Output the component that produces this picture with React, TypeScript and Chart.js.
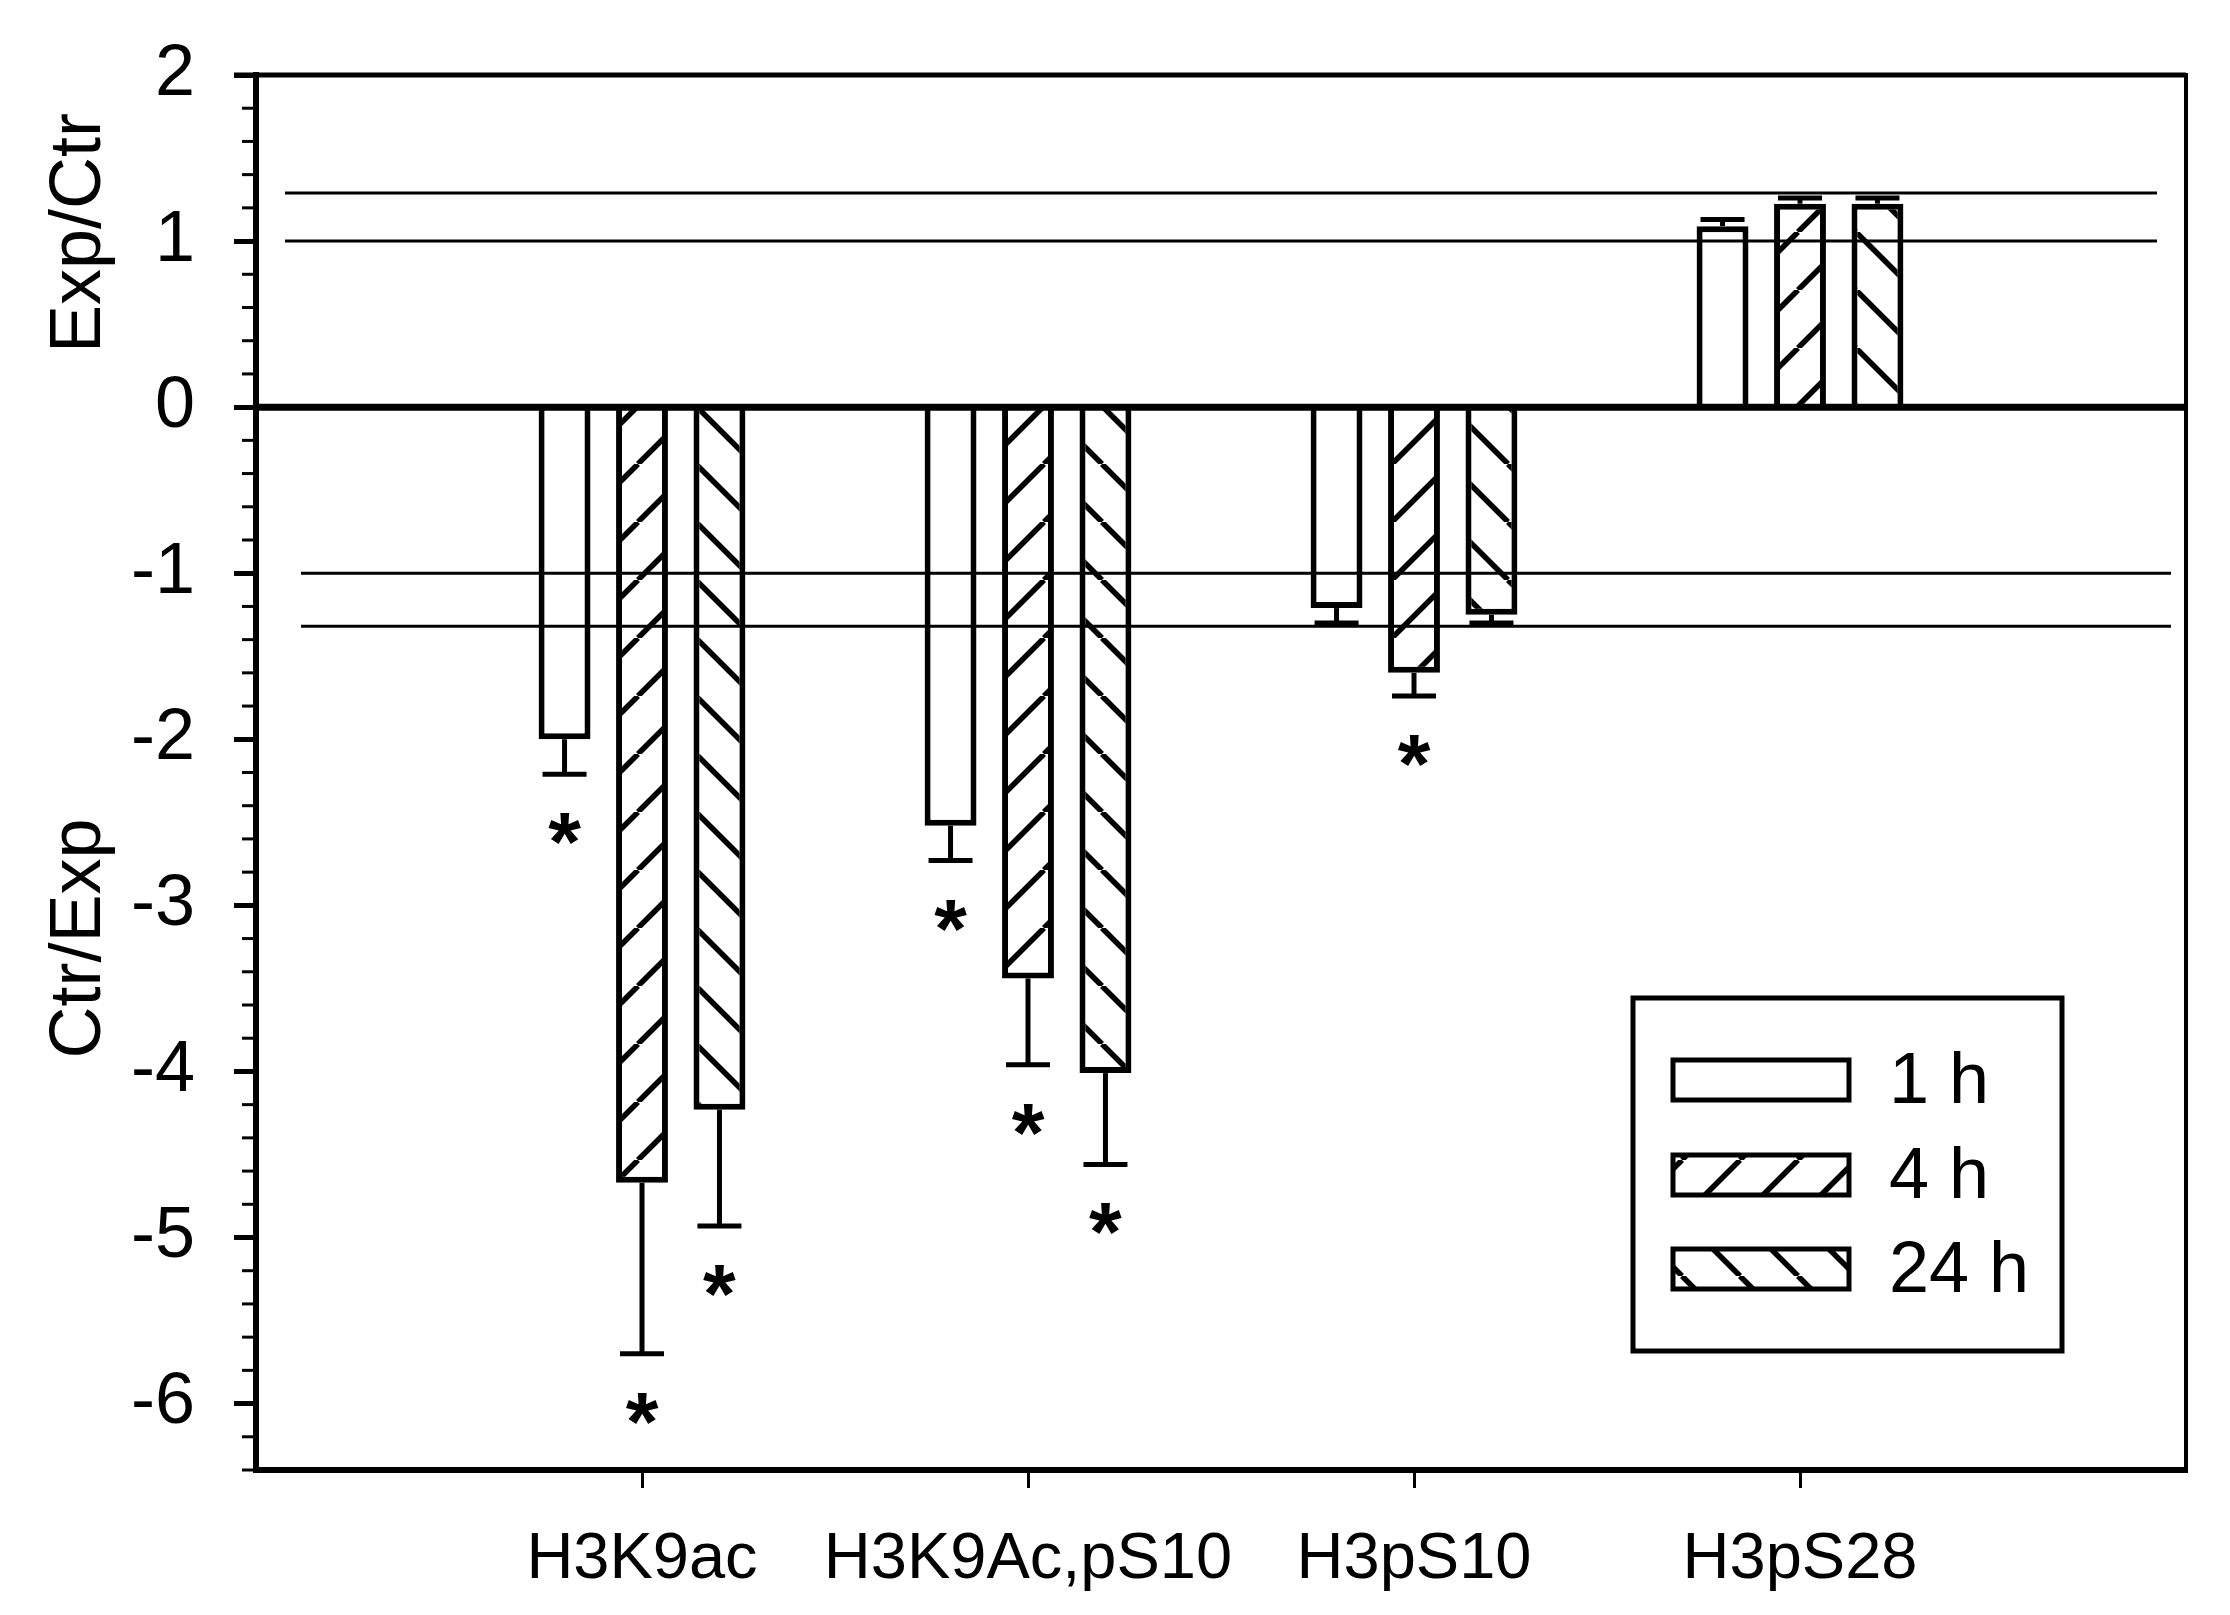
import React, { useEffect, useRef } from 'react';
import { Chart, registerables } from 'chart.js';

Chart.register(...registerables);

// ---------------- data ----------------
const categories = ['', 'H3K9ac', 'H3K9Ac,pS10', 'H3pS10', 'H3pS28', ''];
const seriesLabels = ['1 h', '4 h', '24 h'];
const values1h = [null, -2.0, -2.52, -1.21, 1.09, null];
const values4h = [null, -4.67, -3.44, -1.6, 1.225, null];
const values24h = [null, -4.23, -4.01, -1.25, 1.225, null];
const err1h = [null, 0.21, 0.21, 0.09, 0.04, null];
const err4h = [null, 1.03, 0.52, 0.14, 0.035, null];
const err24h = [null, 0.7, 0.55, 0.05, 0.035, null];
const star1h = [false, true, true, false, false, false];
const star4h = [false, true, true, true, false, false];
const star24h = [false, true, true, false, false, false];
const refLinesUpper = [1.0, 1.29];
const refLinesLower = [-1.0, -1.32];
const yMin = -6.4;
const yMax = 2;
const yStepMinor = 0.2;
const yTitleUpper = 'Exp/Ctr';
const yTitleLower = 'Ctr/Exp';

const FONT = "'Liberation Sans', Arial, Helvetica, sans-serif";

function makeHatch(dir: 'fwd' | 'back' | 'none'): CanvasPattern | string {
  if (dir === 'none') return '#ffffff';
  const s = 58;
  const c = document.createElement('canvas');
  c.width = s;
  c.height = s;
  const g = c.getContext('2d')!;
  g.fillStyle = '#ffffff';
  g.fillRect(0, 0, s, s);
  g.strokeStyle = '#000000';
  g.lineWidth = 5.5;
  g.beginPath();
  for (const o of [-s, 0, s]) {
    if (dir === 'fwd') {
      g.moveTo(o, s);
      g.lineTo(o + s, 0);
    } else {
      g.moveTo(o, 0);
      g.lineTo(o + s, s);
    }
  }
  g.stroke();
  const p = g.createPattern(c, 'repeat');
  return p || '#ffffff';
}

const isInt = (v: number) => Math.abs(v - Math.round(v)) < 1e-6;

export default function App() {
  const ref = useRef<HTMLCanvasElement | null>(null);

  useEffect(() => {
    const canvas = ref.current;
    if (!canvas) return;
    const fills = [makeHatch('none'), makeHatch('fwd'), makeHatch('back')];
    const errs = [err1h, err4h, err24h];
    const stars = [star1h, star4h, star24h];

    const decor = {
      id: 'decor',
      afterDatasetsDraw(chart: any) {
        const ctx: CanvasRenderingContext2D = chart.ctx;
        const area = chart.chartArea;
        const y = chart.scales.y;
        ctx.save();
        ctx.strokeStyle = '#000';
        ctx.fillStyle = '#000';

        // reference lines
        ctx.lineWidth = 3;
        for (const v of refLinesUpper) {
          const py = y.getPixelForValue(v);
          ctx.beginPath();
          ctx.moveTo(area.left + 29, py);
          ctx.lineTo(area.right - 29, py);
          ctx.stroke();
        }
        for (const v of refLinesLower) {
          const py = y.getPixelForValue(v);
          ctx.beginPath();
          ctx.moveTo(area.left + 45, py);
          ctx.lineTo(area.right - 15, py);
          ctx.stroke();
        }

        // zero line
        const p0 = y.getPixelForValue(0);
        ctx.lineWidth = 7;
        ctx.beginPath();
        ctx.moveTo(area.left, p0);
        ctx.lineTo(area.right, p0);
        ctx.stroke();

        // error bars + stars
        chart.data.datasets.forEach((ds: any, i: number) => {
          const meta = chart.getDatasetMeta(i);
          meta.data.forEach((el: any, j: number) => {
            const v = ds.data[j];
            const e = errs[i][j];
            if (v == null || e == null) return;
            const sign = v < 0 ? -1 : 1;
            const endPx = y.getPixelForValue(v + sign * e);
            ctx.lineWidth = 5;
            ctx.beginPath();
            ctx.moveTo(el.x, el.y);
            ctx.lineTo(el.x, endPx);
            ctx.stroke();
            ctx.beginPath();
            ctx.moveTo(el.x - 22, endPx);
            ctx.lineTo(el.x + 22, endPx);
            ctx.stroke();
            if (stars[i][j]) {
              ctx.font = `bold 84px ${FONT}`;
              ctx.textAlign = 'center';
              ctx.textBaseline = 'alphabetic';
              const m = ctx.measureText('*');
              const cy = endPx - sign * 55;
              const base = cy + (m.actualBoundingBoxAscent - m.actualBoundingBoxDescent) / 2;
              ctx.fillText('*', el.x, base);
            }
          });
        });

        // frame top/right
        ctx.lineWidth = 5;
        ctx.beginPath();
        ctx.moveTo(area.left - 22, area.top);
        ctx.lineTo(area.right, area.top);
        ctx.stroke();
        ctx.lineWidth = 4;
        ctx.beginPath();
        ctx.moveTo(area.right, area.top - 2);
        ctx.lineTo(area.right, area.bottom + 3);
        ctx.stroke();

        // minor ticks
        ctx.lineWidth = 3;
        for (const t of y.ticks) {
          if (isInt(t.value)) continue;
          const py = y.getPixelForValue(t.value);
          ctx.beginPath();
          ctx.moveTo(area.left - 14, py);
          ctx.lineTo(area.left, py);
          ctx.stroke();
        }

        // y titles
        ctx.font = `72px ${FONT}`;
        ctx.textAlign = 'center';
        ctx.textBaseline = 'alphabetic';
        const drawRot = (text: string, cx: number, cy: number) => {
          ctx.save();
          ctx.translate(cx, cy);
          ctx.rotate(-Math.PI / 2);
          ctx.fillText(text, 0, 0);
          ctx.restore();
        };
        drawRot(yTitleUpper, 100, (area.top + p0) / 2 - 8);
        drawRot(yTitleLower, 100, (p0 + area.bottom) / 2);

        // legend
        const bx0 = area.right - 553;
        const by0 = area.top + 923;
        const bw = 429;
        const bh = 353;
        ctx.lineWidth = 5;
        ctx.fillStyle = '#fff';
        ctx.fillRect(bx0, by0, bw, bh);
        ctx.strokeRect(bx0, by0, bw, bh);
        const rowY = [by0 + 82, by0 + 177, by0 + 271];
        chart.data.datasets.forEach((ds: any, i: number) => {
          const cy = rowY[i];
          ctx.fillStyle = ds.backgroundColor;
          ctx.fillRect(bx0 + 40, cy - 20, 176, 40);
          ctx.lineWidth = 5;
          ctx.strokeRect(bx0 + 40, cy - 20, 176, 40);
          ctx.fillStyle = '#000';
          ctx.font = `72px ${FONT}`;
          ctx.textAlign = 'left';
          ctx.textBaseline = 'middle';
          ctx.fillText(ds.label, bx0 + 256, cy + 3);
        });

        ctx.restore();
      },
    };

    const chart = new Chart(canvas, {
      type: 'bar',
      data: {
        labels: categories,
        datasets: [values1h, values4h, values24h].map((d, i) => ({
          label: seriesLabels[i],
          data: d,
          backgroundColor: fills[i] as any,
          borderColor: '#000',
          borderWidth: 6,
          borderSkipped: 'start',
          categoryPercentage: 0.602,
          barPercentage: 0.67,
        })),
      },
      options: {
        responsive: false,
        devicePixelRatio: 1,
        animation: false,
        layout: { padding: { top: 75, right: 44, left: 0, bottom: 0 } },
        plugins: { legend: { display: false }, tooltip: { enabled: false } },
        scales: {
          x: {
            type: 'category',
            offset: false,
            afterFit: (s: any) => {
              s.height = 145;
              s.paddingLeft = 0;
              s.paddingRight = 0;
            },
            grid: {
              offset: false,
              drawOnChartArea: false,
              drawTicks: true,
              tickLength: 18,
              tickWidth: 3,
              tickColor: (c: any) =>
                c.index === 0 || c.index === categories.length - 1 ? 'rgba(0,0,0,0)' : '#000',
            },
            border: { display: true, color: '#000', width: 6 },
            ticks: {
              autoSkip: false,
              maxRotation: 0,
              padding: 33,
              color: '#000',
              font: { family: FONT, size: 65 },
            },
          },
          y: {
            min: yMin,
            max: yMax,
            afterFit: (s: any) => {
              s.width = 256;
              s.paddingTop = 0;
              s.paddingBottom = 0;
            },
            grid: {
              drawOnChartArea: false,
              drawTicks: true,
              tickLength: 22,
              tickWidth: 5,
              tickColor: (c: any) => (c.tick && isInt(c.tick.value) ? '#000' : 'rgba(0,0,0,0)'),
            },
            border: { display: true, color: '#000', width: 6 },
            ticks: {
              stepSize: yStepMinor,
              autoSkip: false,
              padding: 39,
              color: '#000',
              font: { family: FONT, size: 72 },
              callback: (v: any) => (isInt(Number(v)) ? String(Math.round(Number(v))) : ''),
            },
          },
        },
      },
      plugins: [decor],
    } as any);

    return () => chart.destroy();
  }, []);

  return (
    <div style={{ position: 'absolute', left: 0, top: 0, width: 2230, height: 1615, background: '#fff' }}>
      <canvas ref={ref} width={2230} height={1615} style={{ display: 'block', width: 2230, height: 1615 }} />
    </div>
  );
}
